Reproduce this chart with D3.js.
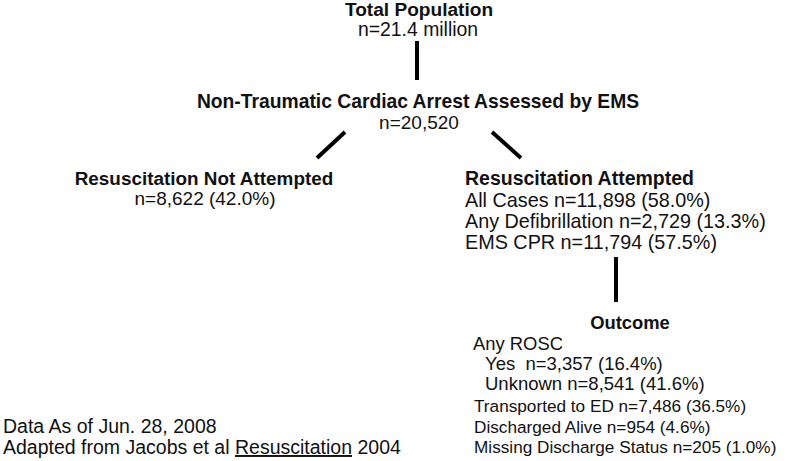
<!DOCTYPE html>
<html><head><meta charset="utf-8">
<script src="https://cdn.jsdelivr.net/npm/d3@7"></script>
<style>body{margin:0;background:#fff}svg{display:block}text{font-family:"Liberation Sans",Arial,sans-serif;fill:#111}</style>
</head><body>
<script>
// Data
const totalPopulation = "21.4 million";
const assessedN = 20520;
const notAttempted = {n: 8622, pct: 42.0};
const attempted = [
  {label: "All Cases", n: 11898, pct: 58.0},
  {label: "Any Defibrillation", n: 2729, pct: 13.3},
  {label: "EMS CPR", n: 11794, pct: 57.5}
];
const roscRows = [
  {label: "Yes ", n: 3357, pct: 16.4},
  {label: "Unknown", n: 8541, pct: 41.6}
];
const outcomeRows = [
  {label: "Transported to ED", n: 7486, pct: 36.5},
  {label: "Discharged Alive", n: 954, pct: 4.6},
  {label: "Missing Discharge Status", n: 205, pct: 1.0}
];
const footnotes = ["Data As of Jun. 28, 2008"];

const W = 800, H = 461;
const fmt = d3.format(",");
const pctf = d => `(${d.toFixed(1)}%)`;
const svg = d3.select("body").append("svg").attr("width", W).attr("height", H);

function txt(x, y, s, opts = {}) {
  return svg.append("text").attr("x", x).attr("y", y)
    .attr("font-size", opts.fs || 19.3)
    .attr("font-weight", opts.bold ? "bold" : "normal")
    .attr("text-anchor", opts.anchor || "start")
    .style("white-space", "pre").text(s);
}
const connectors = [
  [[417, 41], [417, 80]],
  [[317, 158], [345, 132]],
  [[492, 132], [521, 158]],
  [[616, 257], [616, 302]]
];
svg.selectAll("line.c").data(connectors).join("line").attr("class", "c")
  .attr("x1", d => d[0][0]).attr("y1", d => d[0][1])
  .attr("x2", d => d[1][0]).attr("y2", d => d[1][1])
  .attr("stroke", "#000").attr("stroke-width", 4);

txt(419, 16, "Total Population", {bold: true, anchor: "middle", fs: 19.1});
txt(418, 36, `n=${totalPopulation}`, {anchor: "middle", fs: 19.4});
txt(418, 108, "Non-Traumatic Cardiac Arrest Assessed by EMS", {bold: true, anchor: "middle", fs: 19.3});
txt(419, 129, `n=${fmt(assessedN)}`, {anchor: "middle", fs: 19});
txt(204, 185, "Resuscitation Not Attempted", {bold: true, anchor: "middle", fs: 18.9});
txt(205, 205, `n=${fmt(notAttempted.n)} ${pctf(notAttempted.pct)}`, {anchor: "middle", fs: 19});
txt(465, 185, "Resuscitation Attempted", {bold: true, fs: 19.5});
attempted.forEach((d, i) => txt(465, 207 + i * 21, `${d.label} n=${fmt(d.n)} ${pctf(d.pct)}`, {fs: 19.8}));
txt(630, 329, "Outcome", {bold: true, anchor: "middle", fs: 18.4});
txt(473, 350, "Any ROSC", {fs: 18.4});
roscRows.forEach((d, i) => txt(485, 370 + i * 20, `${d.label} n=${fmt(d.n)} ${pctf(d.pct)}`, {fs: 18.5}));
outcomeRows.forEach((d, i) => txt(474, 412 + i * 20.5, `${d.label} n=${fmt(d.n)} ${pctf(d.pct)}`, {fs: 17.2}));
txt(3, 433, footnotes[0], {fs: 19.5});
const f2 = txt(3, 454, "Adapted from Jacobs et al ", {fs: 19.5});
f2.append("tspan").attr("text-decoration", "underline").text("Resuscitation");
f2.append("tspan").text(" 2004");
</script>
</body></html>
